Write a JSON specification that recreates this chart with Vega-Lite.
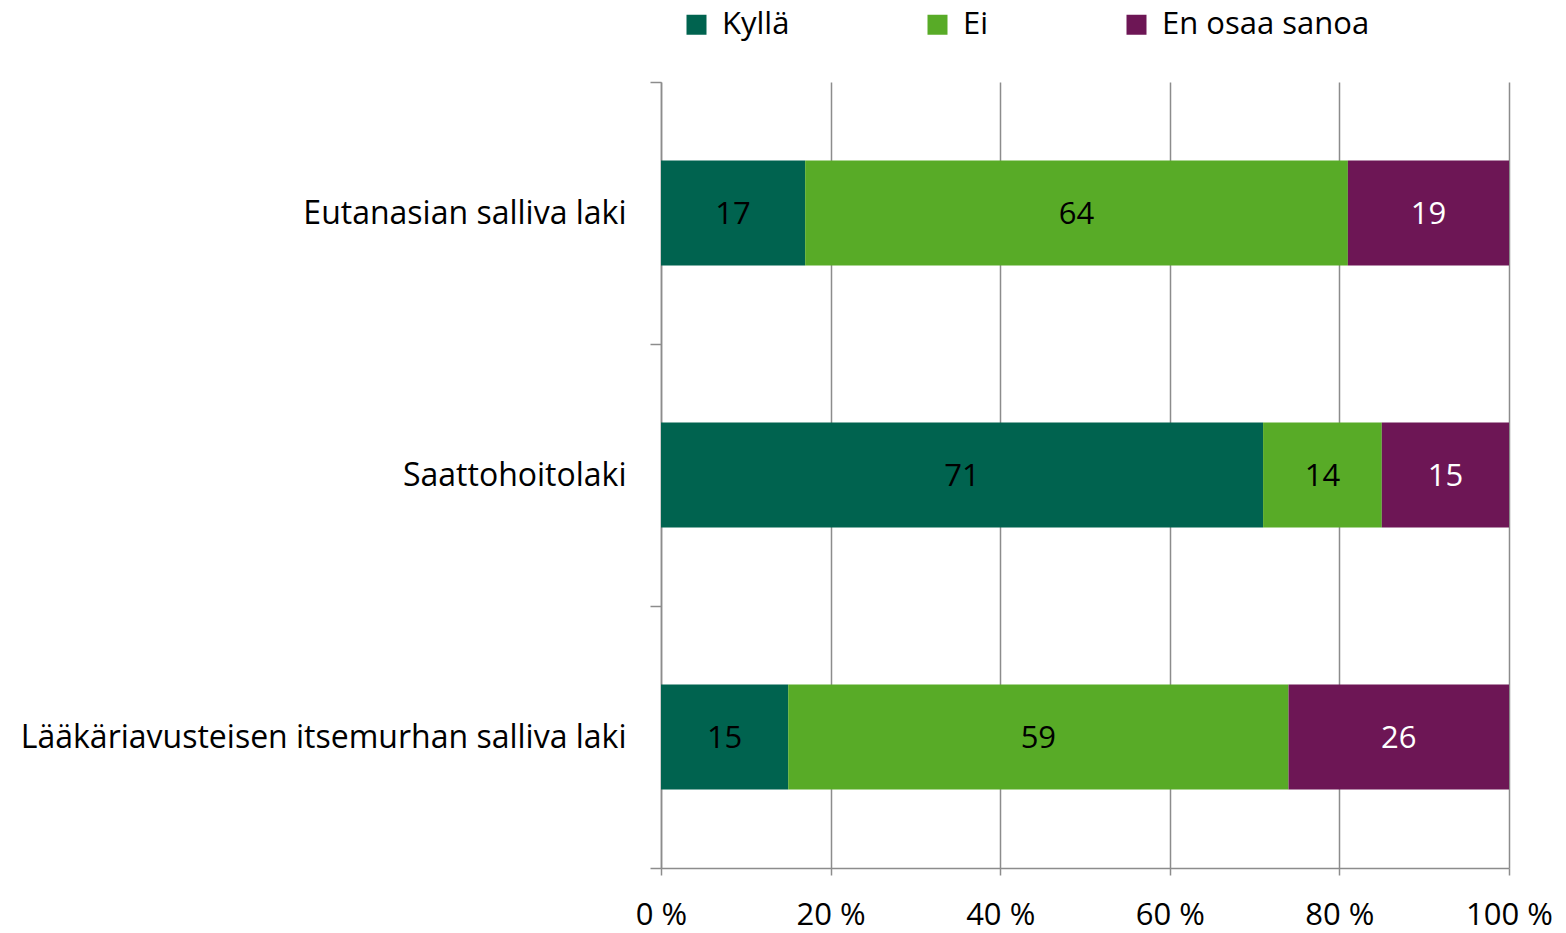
{
  "$schema": "https://vega.github.io/schema/vega-lite/v6.json",
  "width": 848,
  "height": 786,
  "autosize": "none",
  "padding": {"left": 661, "top": 82, "right": 57, "bottom": 65},
  "background": "white",
  "config": {
    "view": {"stroke": null},
    "font": "Open Sans"
  },
  "data": {
    "values": [
      {"law": "Eutanasian salliva laki", "category": "Kyllä", "value": 17},
      {"law": "Eutanasian salliva laki", "category": "Ei", "value": 64},
      {"law": "Eutanasian salliva laki", "category": "En osaa sanoa", "value": 19},
      {"law": "Saattohoitolaki", "category": "Kyllä", "value": 71},
      {"law": "Saattohoitolaki", "category": "Ei", "value": 14},
      {"law": "Saattohoitolaki", "category": "En osaa sanoa", "value": 15},
      {"law": "Lääkäriavusteisen itsemurhan salliva laki", "category": "Kyllä", "value": 15},
      {"law": "Lääkäriavusteisen itsemurhan salliva laki", "category": "Ei", "value": 59},
      {"law": "Lääkäriavusteisen itsemurhan salliva laki", "category": "En osaa sanoa", "value": 26}
    ]
  },
  "transform": [
    {"calculate": "indexof(['Kyllä','Ei','En osaa sanoa'], datum.category)", "as": "ord"},
    {"stack": "value", "groupby": ["law"], "sort": [{"field": "ord", "order": "ascending"}], "as": ["v0", "v1"]},
    {"calculate": "(datum.v0 + datum.v1) / 2", "as": "mid"}
  ],
  "encoding": {
    "y": {
      "field": "law",
      "type": "nominal",
      "sort": null,
      "title": null,
      "scale": {"paddingInner": 0, "paddingOuter": 0},
      "axis": {
        "domainColor": "#8c8c8c",
        "domainWidth": 1.5,
        "tickColor": "#8c8c8c",
        "tickWidth": 1.5,
        "tickSize": 11,
        "tickBand": "extent",
        "labelFont": "Open Sans",
        "labelFontSize": 32,
        "labelColor": "black",
        "labelPadding": 24,
        "labelLimit": 700
      }
    }
  },
  "layer": [
    {
      "mark": {"type": "bar", "height": {"band": 0.4}},
      "encoding": {
        "x": {
          "field": "v0",
          "type": "quantitative",
          "scale": {"domain": [0, 100], "nice": false},
          "title": null,
          "axis": {
            "values": [0, 20, 40, 60, 80, 100],
            "labelExpr": "datum.value + ' %'",
            "grid": true,
            "gridColor": "#8c8c8c",
            "gridWidth": 1.5,
            "domainColor": "#8c8c8c",
            "domainWidth": 1.5,
            "tickColor": "#8c8c8c",
            "tickWidth": 1.5,
            "tickSize": 7,
            "labelFont": "Open Sans",
            "labelFontSize": 31,
            "labelColor": "black",
            "labelPadding": 25,
            "labelFlush": false
          }
        },
        "x2": {"field": "v1"},
        "color": {
          "field": "category",
          "type": "nominal",
          "sort": ["Kyllä", "Ei", "En osaa sanoa"],
          "scale": {"domain": ["Kyllä", "Ei", "En osaa sanoa"], "range": ["#00634F", "#58AB27", "#6D1655"]},
          "legend": {
            "title": null,
            "orient": "none",
            "direction": "horizontal",
            "legendX": 20,
            "legendY": -73,
            "columns": 3,
            "columnPadding": 132,
            "symbolType": "square",
            "symbolSize": 400,
            "symbolStrokeWidth": 0,
            "symbolOffset": 0,
            "labelFont": "Open Sans",
            "labelFontSize": 31,
            "labelColor": "black",
            "labelOffset": 10,
            "labelLimit": 400
          }
        }
      }
    },
    {
      "mark": {"type": "text", "font": "Open Sans", "fontSize": 31, "baseline": "middle", "align": "center", "dy": 2},
      "encoding": {
        "x": {"field": "mid", "type": "quantitative"},
        "text": {"field": "value", "type": "quantitative"},
        "fill": {"condition": {"test": "datum.category === 'En osaa sanoa'", "value": "white"}, "value": "black"}
      }
    }
  ]
}
